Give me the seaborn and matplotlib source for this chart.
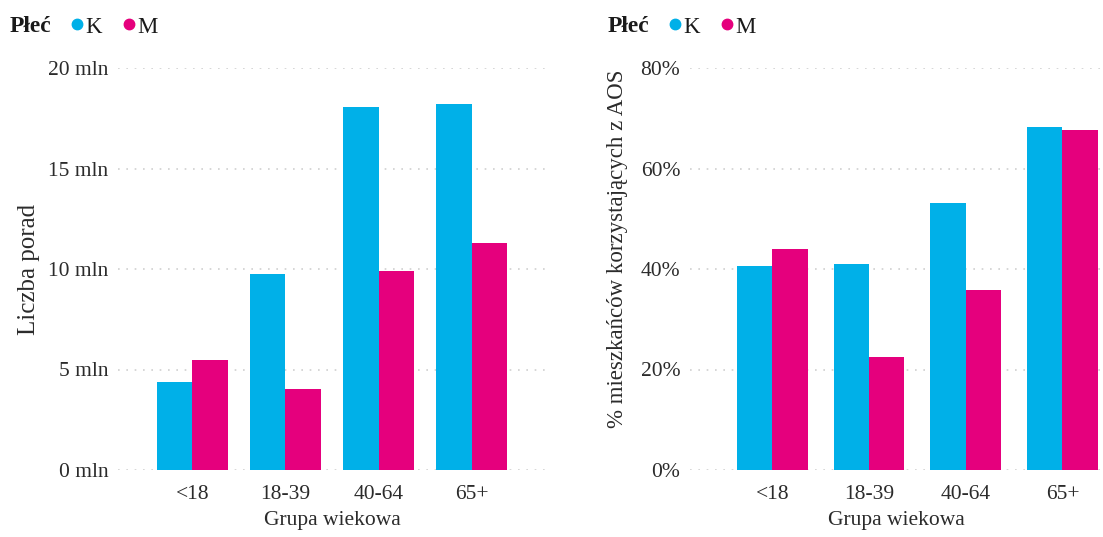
import matplotlib
matplotlib.use("Agg")
import matplotlib.pyplot as plt
from matplotlib.lines import Line2D
from matplotlib.ticker import FuncFormatter
import seaborn as sns
import pandas as pd

groups = ["<18", "18-39", "40-64", "65+"]
sexes = ["K", "M"]
porady_K = [4.38, 9.75, 18.05, 18.2]
porady_M = [5.47, 4.05, 9.9, 11.3]
pct_K = [40.6, 41.0, 53.1, 68.3]
pct_M = [44.0, 22.5, 35.8, 67.7]
colors = {"K": "#00B0E8", "M": "#E5007D"}

df1 = pd.DataFrame({"Grupa": groups * 2, "Płeć": ["K"] * 4 + ["M"] * 4,
                    "val": porady_K + porady_M})
df2 = pd.DataFrame({"Grupa": groups * 2, "Płeć": ["K"] * 4 + ["M"] * 4,
                    "val": pct_K + pct_M})

sns.set_style("white")
plt.rcParams["font.family"] = ["Liberation Serif", "DejaVu Serif"]
txt = "#2b2b2b"

fig = plt.figure(figsize=(11.03, 5.37), dpi=100)
W, H = 1103, 537
ax1 = fig.add_axes([118 / W, 67 / H, 428 / W, 402 / H])
ax2 = fig.add_axes([690 / W, 67 / H, (W - 690) / W, 402 / H])

sns.barplot(data=df1, x="Grupa", y="val", hue="Płeć", order=groups, hue_order=sexes,
            palette=colors, width=0.76, saturation=1, ax=ax1, legend=False, linewidth=0)
sns.barplot(data=df2, x="Grupa", y="val", hue="Płeć", order=groups, hue_order=sexes,
            palette=colors, width=0.73, saturation=1, ax=ax2, legend=False, linewidth=0)

ax1.set_xlim(-0.8, 3.8)
ax1.set_ylim(0, 20)
ax1.set_yticks([0, 5, 10, 15, 20])
ax1.yaxis.set_major_formatter(FuncFormatter(lambda v, p: f"{v:.0f} mln"))
ax1.set_ylabel("Liczba porad", fontsize=18, color=txt, labelpad=6)

ax2.set_xlim(-0.85, 3.42)
ax2.set_ylim(0, 80)
ax2.set_yticks([0, 20, 40, 60, 80])
ax2.yaxis.set_major_formatter(FuncFormatter(lambda v, p: f"{v:.0f}%"))
ax2.set_ylabel("% mieszkańców korzystających z AOS", fontsize=16.5, color=txt)
ax2.yaxis.set_label_coords(-0.15, 0.55)

for ax in (ax1, ax2):
    ax.set_xlabel("Grupa wiekowa", fontsize=15.5, color=txt, labelpad=5)
    ax.tick_params(axis="y", length=0, labelsize=15.5, labelcolor=txt, pad=7)
    ax.tick_params(axis="x", length=0, labelsize=15.5, labelcolor=txt, pad=11)
    ax.grid(axis="y", linestyle=(0, (1, 4)), color="#D0D0D0", linewidth=1.2)
    ax.set_axisbelow(True)
    for s in ax.spines.values():
        s.set_visible(False)

for x0 in (10, 608):
    fig.text(x0 / W, 1 - 27 / H, "Płeć", fontsize=17, fontweight="bold",
             color="#1a1a1a", va="center", ha="left")
    handles = [Line2D([], [], marker="o", linestyle="", markersize=7.5,
                      color=colors[s], label=s) for s in sexes]
    fig.legend(handles=handles, loc="center left",
               bbox_to_anchor=((x0 + 58) / W, 1 - 27 / H), ncol=2, frameon=False,
               fontsize=16.5, handletextpad=-0.05, columnspacing=0.8, handlelength=0.8,
               borderpad=0, borderaxespad=0, labelcolor="#1a1a1a")

fig.savefig("out.png", dpi=100)
